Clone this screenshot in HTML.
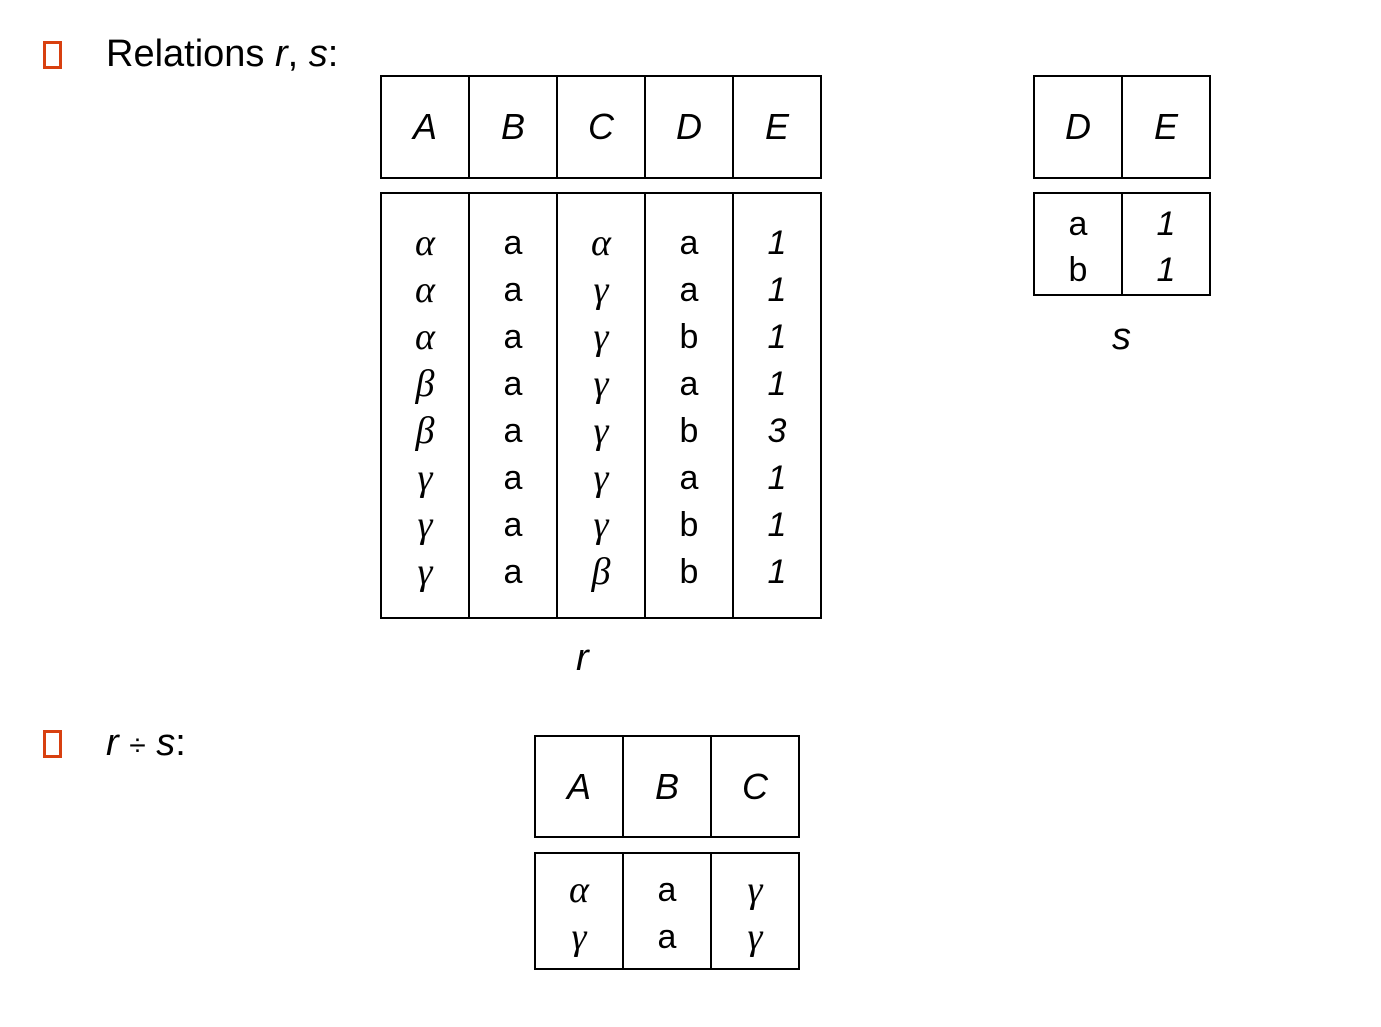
<!DOCTYPE html>
<html><head><meta charset="utf-8"><style>
body{margin:0;width:1381px;height:1027px;background:#fff;position:relative;overflow:hidden;font-family:"Liberation Sans",sans-serif;color:#000}
.b{position:absolute;border:2px solid #000;box-sizing:border-box}
.v{position:absolute;width:2px;background:#000}
.t{position:absolute;width:88px;text-align:center;font-size:34px;line-height:40px;height:40px}
.h{font-size:36px}
.i{font-style:italic}
.g{font-family:"Liberation Serif",serif;font-style:italic;font-size:38px}
.bul{position:absolute;width:13px;height:22px;border:3px solid #d84010}
.lab{position:absolute;font-size:38px;line-height:40px}
</style></head><body>
<div class="bul" style="left:43px;top:41px"></div>
<div class="lab" style="left:106px;top:34px">Relations <i>r</i>, <i>s</i>:</div>
<div class="bul" style="left:43px;top:730px"></div>
<div class="lab" style="left:106px;top:723px"><i>r</i> <span style="font-size:30px">÷</span> <i>s</i>:</div>
<div class="lab i" style="left:576px;top:638px">r</div>
<div class="lab i" style="left:1112px;top:317px">s</div>
<div id="c"></div>
<script>
var c=document.getElementById('c'),h='';
function tbl(x,y,h1,cols,bodyTop,bodyH,rows,heads,data){
 var w=cols*88;
 h+='<div class="b" style="left:'+x+'px;top:'+y+'px;width:'+(w+2)+'px;height:'+h1+'px"></div>';
 h+='<div class="b" style="left:'+x+'px;top:'+bodyTop+'px;width:'+(w+2)+'px;height:'+bodyH+'px"></div>';
 for(var k=1;k<cols;k++){
  h+='<div class="v" style="left:'+(x+k*88)+'px;top:'+y+'px;height:'+h1+'px"></div>';
  h+='<div class="v" style="left:'+(x+k*88)+'px;top:'+bodyTop+'px;height:'+bodyH+'px"></div>';
 }
 for(var k=0;k<cols;k++){
  h+='<div class="t i h" style="left:'+(x+1+k*88)+'px;top:'+(y+h1/2-20)+'px">'+heads[k]+'</div>';
 }
 for(var r=0;r<data.length;r++)for(var k=0;k<cols;k++){
  var v=data[r][k],g='αβγ'.indexOf(v)>=0,it=/[0-9]/.test(v);
  h+='<div class="t'+(g?' g':'')+(it?' i':'')+'" style="left:'+(x+1+k*88)+'px;top:'+(rows[r]-20)+'px">'+v+'</div>';
 }
}
var rr=[243,290,337,384,431,478,525,572];
tbl(380,75,104,5,192,427,rr,['A','B','C','D','E'],[
['α','a','α','a','1'],['α','a','γ','a','1'],['α','a','γ','b','1'],['β','a','γ','a','1'],
['β','a','γ','b','3'],['γ','a','γ','a','1'],['γ','a','γ','b','1'],['γ','a','β','b','1']]);
tbl(1033,75,104,2,192,104,[224,270],['D','E'],[['a','1'],['b','1']]);
tbl(534,735,103,3,852,118,[890,937],['A','B','C'],[['α','a','γ'],['γ','a','γ']]);
c.innerHTML=h;
</script>
</body></html>
